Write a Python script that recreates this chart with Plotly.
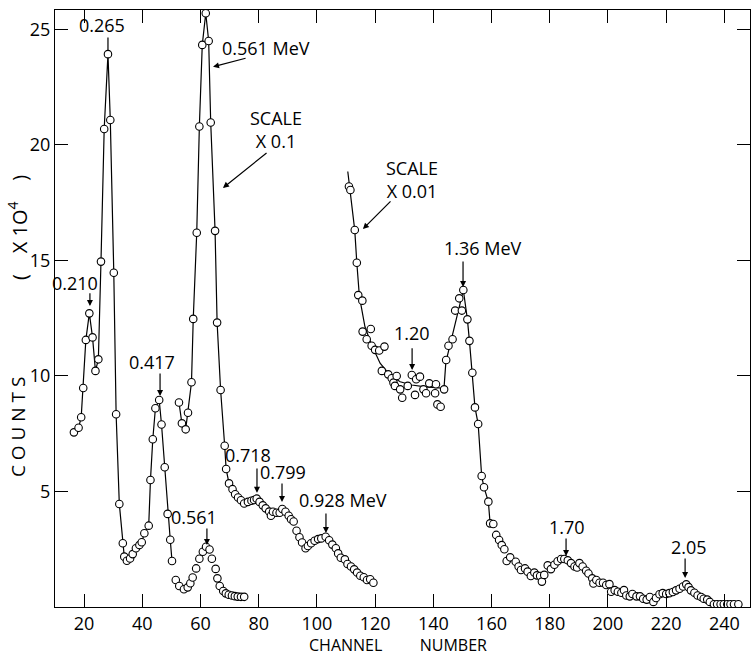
import plotly.graph_objects as go

# ---- Curve A: full-scale spectrum (0.210, 0.265, 0.417 peaks)
a_x = [16.5, 18.1, 19.0, 19.7, 20.6, 21.8, 22.9, 23.9, 24.9, 25.8, 26.9, 28.2, 29.0, 30.2,
       31.0, 32.1, 33.3, 33.8, 34.7, 35.8, 36.7, 37.8, 39.0, 39.8, 40.7, 42.2, 42.8, 43.6,
       44.5, 45.8, 46.6, 47.7, 48.7, 49.6, 50.2]
a_y = [7.56, 7.76, 8.21, 9.48, 11.56, 12.71, 11.67, 10.22, 10.72, 14.95, 20.69, 23.93, 21.08, 14.47,
       8.34, 4.46, 2.76, 2.18, 2.0, 2.1, 2.29, 2.54, 2.68, 2.8, 3.19, 3.52, 5.5, 7.26,
       8.6, 8.96, 7.9, 6.05, 4.03, 2.91, 1.99]

# ---- Curve B: small 0.561 peak (points only)
b_x = [51.5, 52.7, 54.3, 55.6, 56.5, 57.3, 58.5, 59.6, 60.8, 61.9, 63.1, 63.9, 65.2, 65.8,
       66.6, 67.8, 68.7, 69.7, 70.8, 71.8, 72.8, 73.9, 75.0]
b_y = [1.17, 0.91, 0.77, 0.85, 1.03, 1.28, 1.67, 2.09, 2.39, 2.61, 2.49, 2.09, 1.65, 1.24,
       0.91, 0.69, 0.59, 0.53, 0.5, 0.47, 0.45, 0.44, 0.44]

# ---- Curve C: scale x0.1 (0.561 MeV big peak, 0.718, 0.799, 0.928)
c_x = [52.6, 53.6, 54.9, 55.7, 56.9, 57.5, 58.7, 59.6, 60.6, 61.8, 62.8, 63.5, 65.0, 65.7,
       66.9, 68.3, 68.8, 69.8, 71.0, 71.9, 72.9, 73.9, 75.0, 76.3, 77.5, 78.4, 79.3, 80.3,
       81.4, 82.4, 83.6, 84.2, 84.9, 86.1, 87.2, 88.1, 89.2, 90.3, 91.1, 92.0, 93.0, 94.0,
       94.9, 96.1, 96.9, 98.0, 99.2, 100.4, 101.5, 103.0, 104.2, 105.3, 106.5, 107.3, 108.2,
       109.6, 110.5, 111.7, 112.8, 113.8, 114.9, 116.1, 117.2, 118.3, 119.4]
c_y = [8.85, 7.95, 7.69, 8.41, 9.73, 12.47, 16.2, 20.8, 24.33, 25.7, 24.5, 20.97, 16.28, 12.31,
       9.39, 6.98, 5.97, 5.35, 5.1, 4.88, 4.74, 4.62, 4.48, 4.55, 4.6, 4.63, 4.69, 4.55,
       4.4, 4.27, 4.13, 3.95, 4.12, 4.08, 4.08, 4.24, 4.12, 3.95, 3.8, 3.7, 3.3, 3.02,
       2.79, 2.54, 2.64, 2.76, 2.87, 2.94, 2.97, 3.04, 2.89, 2.7, 2.54, 2.32, 2.13,
       2.06, 1.86, 1.75, 1.63, 1.49, 1.35, 1.29, 1.17, 1.2, 1.05]
c_line_n = 18  # line drawn through the first points only

# ---- Curve D: scale x0.01 (1.20, 1.36, 1.70, 2.05)
d_x = [111.0, 111.5, 113.0, 113.7, 114.2, 115.6, 115.7, 117.1, 118.5, 118.8, 120.0, 121.4,
       122.3, 123.2, 124.5, 125.7, 126.3, 126.8, 127.4, 128.6, 129.3, 131.2, 132.6, 133.7,
       134.1, 135.4, 136.6, 137.5, 138.6, 140.6, 140.9, 141.4, 142.5, 143.7, 144.4, 145.2,
       146.6, 147.5, 148.9, 149.8, 150.3, 151.7, 152.4, 153.4, 154.3, 155.4, 156.6, 157.4,
       158.9, 159.5, 160.6, 161.6, 162.6, 163.5, 164.4, 165.2, 166.4, 168.3, 169.3, 170.1,
       171.5, 172.4, 173.5, 174.7, 175.6, 176.7, 177.3, 178.1, 179.3, 180.4, 181.6, 182.7,
       183.9, 185.0, 186.2, 187.3, 188.5, 189.4, 190.2, 191.3, 192.5, 193.3, 194.6, 195.0,
       196.0, 197.1, 198.3, 199.4, 200.5, 201.1, 202.3, 203.4, 204.6, 205.5, 206.3, 207.5,
       208.4, 209.8, 211.0, 212.1, 213.3, 214.4, 215.6, 216.5, 217.7, 218.8, 220.0, 221.1,
       222.3, 223.4, 224.6, 225.8, 226.9, 227.7, 228.5, 229.7, 230.8, 232.0, 232.9, 234.1,
       235.0, 236.4, 237.5, 238.7, 239.8, 241.0, 242.1, 243.3, 244.8]
d_y = [18.2, 18.05, 16.32, 14.9, 13.5, 13.26, 11.92, 11.59, 12.03, 11.31, 11.13, 11.1,
       10.22, 11.27, 10.07, 9.9, 9.71, 9.57, 10.0, 9.42, 9.06, 9.57, 10.04, 9.18,
       9.86, 9.97, 9.42, 9.25, 9.68, 9.25, 9.64, 8.77, 8.67, 9.42, 10.69, 11.31,
       11.59, 12.83, 13.36, 12.83, 13.72, 12.45, 11.52, 10.14, 8.64, 7.92, 5.67, 5.18,
       4.56, 3.62, 3.59, 3.12, 2.9, 2.68, 2.5, 1.99, 2.15, 1.96, 1.75, 1.6,
       1.67, 1.53, 1.34, 1.49, 1.37, 1.34, 1.1, 1.39, 1.8, 1.64, 1.83, 1.98,
       2.08, 2.08, 2.02, 1.9, 1.75, 1.71, 1.9, 1.75, 1.57, 1.45, 1.24, 1.02,
       1.17, 1.05, 1.05, 0.95, 0.99, 0.66, 0.73, 0.66, 0.62, 0.73, 0.5, 0.46,
       0.56, 0.46, 0.46, 0.36, 0.32, 0.43, 0.22, 0.39, 0.55, 0.6, 0.56, 0.6,
       0.65, 0.72, 0.79, 0.89, 0.98, 0.86, 0.72, 0.62, 0.5, 0.43, 0.36, 0.32,
       0.22, 0.12, 0.12, 0.12, 0.12, 0.12, 0.12, 0.12, 0.12]
# smooth hand-drawn curve through curve D
dfit_x = [110.6, 111.2, 113.0, 113.7, 114.6, 116.5, 118.8, 121.7, 125.1, 128.6, 132.6, 136.6,
          140.6, 142.9, 143.7, 144.3, 150.3, 151.7, 152.4, 153.4, 154.3, 155.4, 156.6, 157.4,
          158.9, 159.5, 160.6]
dfit_y = [18.85, 18.2, 16.3, 14.9, 13.43, 12.13, 11.34, 10.55, 10.04, 9.75, 9.61, 9.54,
          9.49, 9.47, 9.54, 10.6, 13.72, 12.45, 11.52, 10.14, 8.64, 7.92, 5.67, 5.18,
          4.56, 3.62, 3.59]

# ---- Axis ticks
x_ticks = [20, 40, 60, 80, 100, 120, 140, 160, 180, 200, 220, 240]
y_ticks = [5, 10, 15, 20, 25]

# ---- Peak labels: text, text x, text y, arrow tail x, tail y, head x, head y, arrowhead
labels = [
    ("0.265", 26.2, 25.2, 28.2, 24.72, 28.2, 24.11, 0),
    ("0.210", 16.9, 14.03, 22.0, 13.64, 22.0, 13.03, 1),
    ("0.417", 43.3, 10.6, 46.1, 10.17, 46.1, 9.13, 1),
    ("0.561", 57.8, 3.9, 62.2, 3.46, 62.2, 2.68, 1),
    ("0.561 MeV", 82.5, 24.2, 76.0, 23.77, 64.3, 23.38, 1),
    ("SCALE<br>X 0.1", 85.8, 20.65, 83.2, 19.7, 67.7, 18.14, 1),
    ("SCALE<br>X 0.01", 132.7, 18.5, 125.8, 17.62, 115.8, 16.36, 1),
    ("1.20", 132.7, 11.86, 132.7, 11.26, 132.7, 10.26, 1),
    ("1.36 MeV", 157.1, 15.54, 150.2, 15.02, 150.2, 13.85, 1),
    ("0.718", 76.3, 6.58, 79.4, 6.06, 79.4, 4.94, 1),
    ("0.799", 88.4, 5.84, 88.0, 5.41, 88.0, 4.55, 1),
    ("0.928 MeV", 109.0, 4.63, 103.1, 4.11, 103.1, 3.2, 1),
    ("1.70", 185.9, 3.46, 185.6, 3.03, 185.6, 2.21, 1),
    ("2.05", 227.9, 2.6, 226.5, 2.16, 226.5, 1.26, 1),
]

FONT = "Open Sans"
mk = dict(symbol="circle", size=7.5, color="white", line=dict(color="black", width=1.1))
ln = dict(color="black", width=1.2)

fig = go.Figure()
fig.add_trace(go.Scatter(x=a_x, y=a_y, mode="lines+markers", line=ln, marker=mk))
fig.add_trace(go.Scatter(x=c_x[:c_line_n], y=c_y[:c_line_n], mode="lines", line=ln))
fig.add_trace(go.Scatter(x=dfit_x, y=dfit_y, mode="lines", line=ln))
fig.add_trace(go.Scatter(x=b_x, y=b_y, mode="markers", marker=mk))
fig.add_trace(go.Scatter(x=c_x, y=c_y, mode="markers", marker=mk))
fig.add_trace(go.Scatter(x=d_x, y=d_y, mode="markers", marker=mk))

ann = []
for text, tx, ty, ax_, ay_, hx, hy, head in labels:
    ann.append(dict(x=tx, y=ty, xref="x", yref="y", text=text, showarrow=False,
                    font=dict(family=FONT, size=18, color="black")))
    ann.append(dict(x=hx, y=hy, xref="x", yref="y", ax=ax_, ay=ay_, axref="x", ayref="y",
                    text="", showarrow=True, arrowhead=2 if head else 0, arrowsize=1,
                    arrowwidth=1.2, arrowcolor="black", standoff=0, startstandoff=0))

sp = "\u00a0"
ann.append(dict(xref="paper", yref="paper", x=-0.0532, y=0.3015, textangle=-90,
                xanchor="center", yanchor="middle",
                text=f"C{sp}O{sp}U{sp}N{sp}T{sp}S",
                showarrow=False, font=dict(family=FONT, size=19, color="black")))
ann.append(dict(xref="paper", yref="paper", x=-0.0532, y=0.635, textangle=-90,
                xanchor="center", yanchor="middle",
                text=f"({sp*4}X{sp}1O<sup>4</sup>{sp*4})",
                showarrow=False, font=dict(family=FONT, size=20, color="black")))
ann.append(dict(xref="paper", yref="paper", x=0.4935, y=-0.064, yanchor="middle",
                text=f"CHANNEL{sp*9}NUMBER", showarrow=False,
                font=dict(family=FONT, size=16, color="black")))

fig.update_layout(
    width=751, height=658,
    margin=dict(l=55, r=1, t=10, b=51),
    paper_bgcolor="white", plot_bgcolor="white",
    showlegend=False,
    annotations=ann,
    xaxis=dict(range=[10, 248.8], tickvals=x_ticks, ticks="inside", ticklen=13,
               tickwidth=1.2, tickcolor="black", showline=True, linecolor="black",
               linewidth=1.2, mirror="ticks", showgrid=False, zeroline=False,
               tickfont=dict(family=FONT, size=18, color="black")),
    yaxis=dict(range=[0, 25.84], tickvals=y_ticks, ticks="inside", ticklen=13,
               tickwidth=1.2, tickcolor="black", showline=True, linecolor="black",
               linewidth=1.2, mirror="ticks", showgrid=False, zeroline=False,
               tickfont=dict(family=FONT, size=18, color="black")),
)

fig.write_html("out.html")
